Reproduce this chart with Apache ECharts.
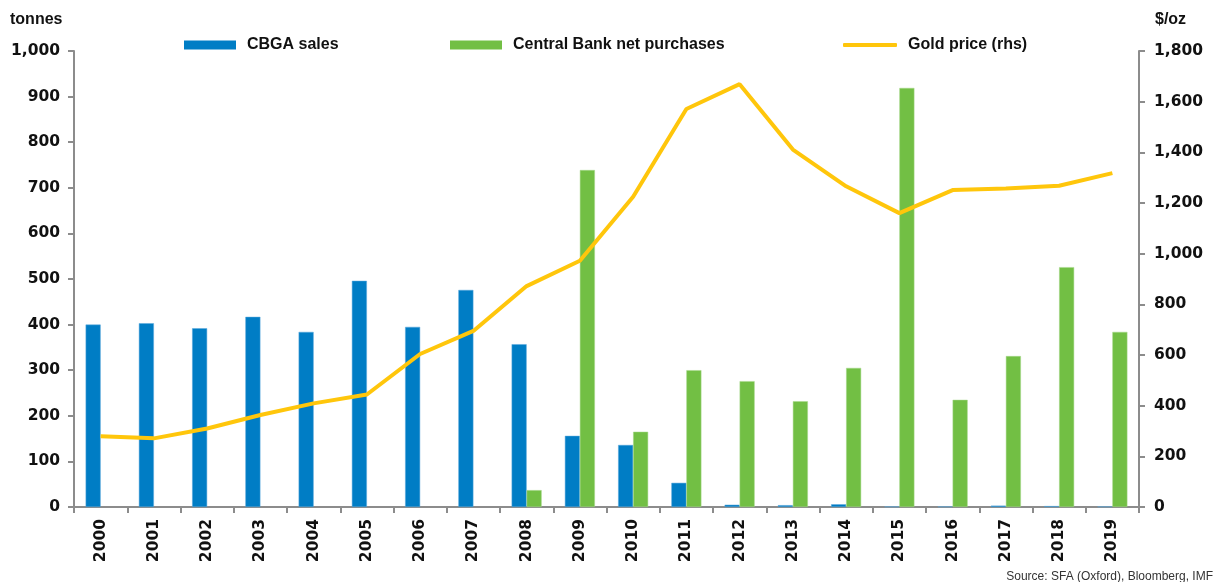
<!DOCTYPE html>
<html>
<head>
<meta charset="utf-8">
<script src="https://cdn.jsdelivr.net/npm/echarts@6/dist/echarts.min.js"></script>
<style>html,body{margin:0;padding:0;background:#fff}#c{width:1215px;height:582px}</style>
</head>
<body>
<div id="c"></div>
<script>
const years = ['2000','2001','2002','2003','2004','2005','2006','2007','2008','2009','2010','2011','2012','2013','2014','2015','2016','2017','2018','2019'];
const cbgaSales = [400,403,392,417,384,496,395,476,357,156,136,53,5,4,6,1,1,3,2,1];
const cbNetPurchases = [null,null,null,null,null,null,null,null,37,739,165,300,276,232,305,919,235,331,526,384];
const goldPrice = [279,271,310,363,409,444,604,695,872,972,1225,1571,1669,1411,1266,1160,1251,1257,1268,1318];
const leftTicks = {min:0,max:1000,interval:100};
const rightTicks = {min:0,max:1800,interval:200};

const fmt = v => v.toLocaleString('en-US');
const axisGrey = '#8c8c8c';
const tickFont = {fontFamily:'DejaVu Sans', fontWeight:'bold', fontSize:15.5, color:'#111'};
const legendText = {fontFamily:'Liberation Sans',fontWeight:'bold',fontSize:16,color:'#111',padding:[0,0,0,6]};
const chart = echarts.init(document.getElementById('c'), null, {renderer:'canvas'});
chart.setOption({
  animation:false,
  backgroundColor:'#fff',
  textStyle:{fontFamily:'DejaVu Sans'},
  grid:{left:74,right:76,top:51,bottom:75,containLabel:false},
  title:[
    {text:'tonnes',left:10,top:12,padding:0,textStyle:{fontFamily:'Liberation Sans',fontWeight:'bold',fontSize:16,color:'#111'}},
    {text:'$/oz',left:1155,top:12,padding:0,textStyle:{fontFamily:'Liberation Sans',fontWeight:'bold',fontSize:16,color:'#111'}},
    {text:'Source: SFA (Oxford), Bloomberg, IMF',right:2,top:571,padding:0,textStyle:{fontFamily:'Liberation Sans',fontWeight:'normal',fontSize:12,color:'#333'}}
  ],
  legend:[
    {data:['CBGA sales'],left:184,top:37,padding:0,itemWidth:52,itemHeight:9,icon:'rect',
     itemStyle:{borderWidth:0},textStyle:legendText},
    {data:['Central Bank net purchases'],left:450,top:37,padding:0,itemWidth:52,itemHeight:9,icon:'rect',
     itemStyle:{borderWidth:0},textStyle:legendText},
    {data:['Gold price (rhs)'],left:843,top:37,padding:0,itemWidth:54,itemHeight:4,icon:'roundRect',
     itemStyle:{borderWidth:0},textStyle:legendText}
  ],
  xAxis:{
    type:'category',data:years,boundaryGap:true,
    axisLine:{lineStyle:{color:axisGrey,width:2}},
    axisTick:{show:true,length:6,alignWithLabel:false,lineStyle:{color:axisGrey,width:2}},
    axisLabel:Object.assign({rotate:90,margin:12,interval:0},tickFont),
    splitLine:{show:false}
  },
  yAxis:[
    {type:'value',min:leftTicks.min,max:leftTicks.max,interval:leftTicks.interval,position:'left',
     axisLine:{show:true,lineStyle:{color:axisGrey,width:2}},
     axisTick:{show:true,length:6,lineStyle:{color:axisGrey,width:2}},
     axisLabel:Object.assign({margin:14,formatter:fmt},tickFont),
     splitLine:{show:false}},
    {type:'value',min:rightTicks.min,max:rightTicks.max,interval:rightTicks.interval,position:'right',
     axisLine:{show:true,lineStyle:{color:axisGrey,width:2}},
     axisTick:{show:true,length:6,lineStyle:{color:axisGrey,width:2}},
     axisLabel:Object.assign({margin:15,formatter:fmt},tickFont),
     splitLine:{show:false}}
  ],
  series:[
    {name:'CBGA sales',type:'bar',data:cbgaSales,barWidth:15,barGap:'0%',yAxisIndex:0,
     itemStyle:{color:'#007DC5',borderColor:'#5aa9dc',borderWidth:0.5}},
    {name:'Central Bank net purchases',type:'bar',data:cbNetPurchases,barWidth:15,barGap:'0%',yAxisIndex:0,
     itemStyle:{color:'#72BF44',borderColor:'#a6d98a',borderWidth:0.5}},
    {name:'Gold price (rhs)',type:'line',data:goldPrice,yAxisIndex:1,symbol:'none',
     lineStyle:{color:'#FFC60B',width:4},itemStyle:{color:'#FFC60B'},z:5}
  ]
});
</script>
</body>
</html>
